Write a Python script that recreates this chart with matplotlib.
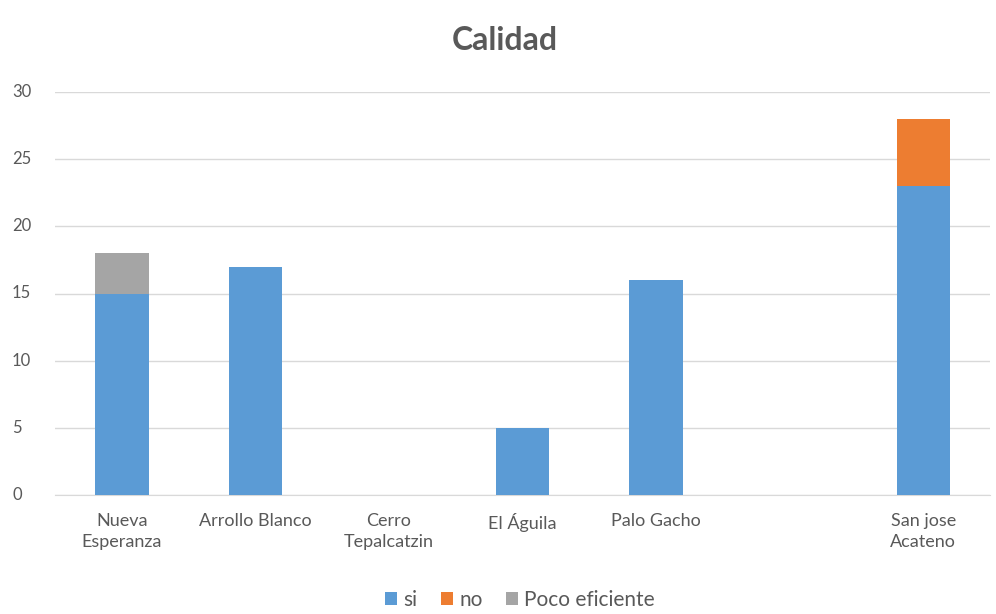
import matplotlib
matplotlib.use("Agg")
import matplotlib.pyplot as plt
import matplotlib.transforms as mtransforms
import numpy as np

categories = ["Nueva\nEsperanza", "Arrollo Blanco", "Cerro\nTepalcatzin", "El Águila", "Palo Gacho", "", "San jose\nAcateno"]
si = [15, 17, 0, 5, 16, 0, 23]
no = [0, 0, 0, 0, 0, 0, 5]
poco = [3, 0, 0, 0, 0, 0, 0]
yticks = [0, 5, 10, 15, 20, 25, 30]

plt.rcParams['font.family'] = ['Lato', 'DejaVu Sans']
txt = '#595959'

fig = plt.figure(figsize=(9.96, 6.14), dpi=100)
ax = fig.add_axes([55/996, 1-495/614, 935/996, (495-92)/614])

x = np.arange(len(categories))
w = 0.4
si_a = np.array(si); no_a = np.array(no); poco_a = np.array(poco)
ax.bar(x, si_a, w, color='#5B9BD5', label='si', zorder=3)
ax.bar(x, no_a, w, bottom=si_a, color='#ED7D31', label='no', zorder=3)
ax.bar(x, poco_a, w, bottom=si_a + no_a, color='#A5A5A5', label='Poco eficiente', zorder=3)

ax.set_xlim(-0.5, len(categories) - 0.5)
ax.set_ylim(0, 30)
ax.set_yticks(yticks)
ax.set_yticklabels([])
ax.set_xticks(x)
ax.set_xticklabels(categories, fontsize=13, color=txt, linespacing=1.35, va='top')
ax.tick_params(axis='y', length=0)
ax.tick_params(axis='x', length=0, pad=13)
ax.grid(axis='y', color='#D9D9D9', linewidth=1, zorder=0)
for s in ['top', 'right', 'left']:
    ax.spines[s].set_visible(False)
ax.spines['bottom'].set_color('#D9D9D9')

trans = mtransforms.blended_transform_factory(fig.transFigure, ax.transData)
for v in yticks:
    fig.text(12/996, v, str(v), transform=trans, ha='left', va='center', fontsize=12, color=txt)

fig.text(505/996, 1-40/614, "Calidad", ha='center', va='center', fontsize=23, fontweight='bold', color=txt)

handles, labels = ax.get_legend_handles_labels()
fig.legend(handles, labels, loc='center', bbox_to_anchor=(520/996, 1-600/614), ncol=3, frameon=False,
           fontsize=15, labelcolor=txt, handlelength=0.6, handleheight=0.6, handletextpad=0.3, columnspacing=1.1)

fig.savefig("out.png", dpi=100)
